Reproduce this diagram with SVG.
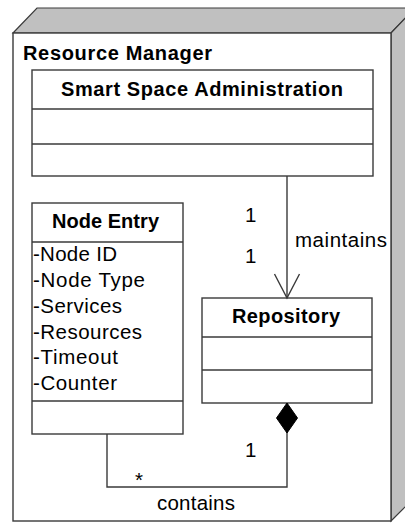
<svg xmlns="http://www.w3.org/2000/svg" width="405" height="523" viewBox="0 0 405 523">
  <style>
    .box { fill: #ffffff; stroke: #3a3a3a; stroke-width: 1.4; }
    .div { stroke: #3a3a3a; stroke-width: 1.4; }
    .side { fill: #c0c0c0; stroke: #3a3a3a; stroke-width: 1.2; }
    .conn { fill: none; stroke: #3a3a3a; stroke-width: 1.4; }
    .t { font-family: "Liberation Sans", Arial, sans-serif; fill: #000; }
    .b { font-weight: bold; font-size: 20px; }
    .r { font-size: 20.5px; }
  </style>
  <defs>
    <marker id="openArrow" markerUnits="userSpaceOnUse" markerWidth="40" markerHeight="40" refX="0" refY="0" orient="auto" viewBox="-30 -20 40 40" overflow="visible">
      <path d="M-24,-12.5 L0,0 L-24,12.5" fill="none" stroke="#3a3a3a" stroke-width="1.4"/>
    </marker>
    <marker id="diamond" markerUnits="userSpaceOnUse" markerWidth="40" markerHeight="40" refX="0" refY="0" orient="auto" viewBox="-5 -20 40 40" overflow="visible">
      <path d="M0,0 L15,-10.5 L30,0 L15,10.5 Z" fill="#000" stroke="#000" stroke-width="1"/>
    </marker>
  </defs>

  <g id="resource-manager">
    <polygon class="side" points="13,33 37,8 415,8 391,33"/>
    <polygon class="side" points="391,33 415,8 415,497 391,521"/>
    <rect class="box" x="13" y="33" width="378" height="488"/>
    <text class="t b" x="23" y="60" textLength="189">Resource Manager</text>
  </g>

  <g id="smart-space-administration">
    <rect class="box" x="32" y="70" width="341" height="106"/>
    <line class="div" x1="32" y1="109" x2="373" y2="109"/>
    <line class="div" x1="32" y1="144" x2="373" y2="144"/>
    <text class="t b" x="61" y="96" textLength="282">Smart Space Administration</text>
  </g>

  <g id="node-entry">
    <rect class="box" x="32" y="203" width="151" height="231"/>
    <line class="div" x1="32" y1="242" x2="183" y2="242"/>
    <line class="div" x1="32" y1="401" x2="183" y2="401"/>
    <text class="t b" x="52" y="228" textLength="107">Node Entry</text>
    <text class="t r" x="33" y="261" textLength="84">-Node ID</text>
    <text class="t r" x="33" y="287" textLength="112">-Node Type</text>
    <text class="t r" x="33" y="313" textLength="89">-Services</text>
    <text class="t r" x="33" y="339" textLength="109">-Resources</text>
    <text class="t r" x="33" y="364" textLength="85">-Timeout</text>
    <text class="t r" x="33" y="390" textLength="84">-Counter</text>
  </g>

  <g id="repository">
    <rect class="box" x="202" y="298" width="170" height="105"/>
    <line class="div" x1="202" y1="337" x2="372" y2="337"/>
    <line class="div" x1="202" y1="370" x2="372" y2="370"/>
    <text class="t b" x="232" y="323" textLength="108">Repository</text>
  </g>

  <g id="connectors">
    <path class="conn" d="M287,176 L287,298" marker-end="url(#openArrow)"/>
    <text class="t r" x="245" y="222">1</text>
    <text class="t r" x="245" y="263">1</text>
    <text class="t r" x="295" y="247" textLength="92">maintains</text>

    <path class="conn" d="M287,403 L287,487 L107,487 L107,434" marker-start="url(#diamond)"/>
    <text class="t r" x="245" y="457">1</text>
    <text class="t r" x="135" y="487">*</text>
    <text class="t r" x="157" y="510" textLength="78">contains</text>
  </g>
</svg>
